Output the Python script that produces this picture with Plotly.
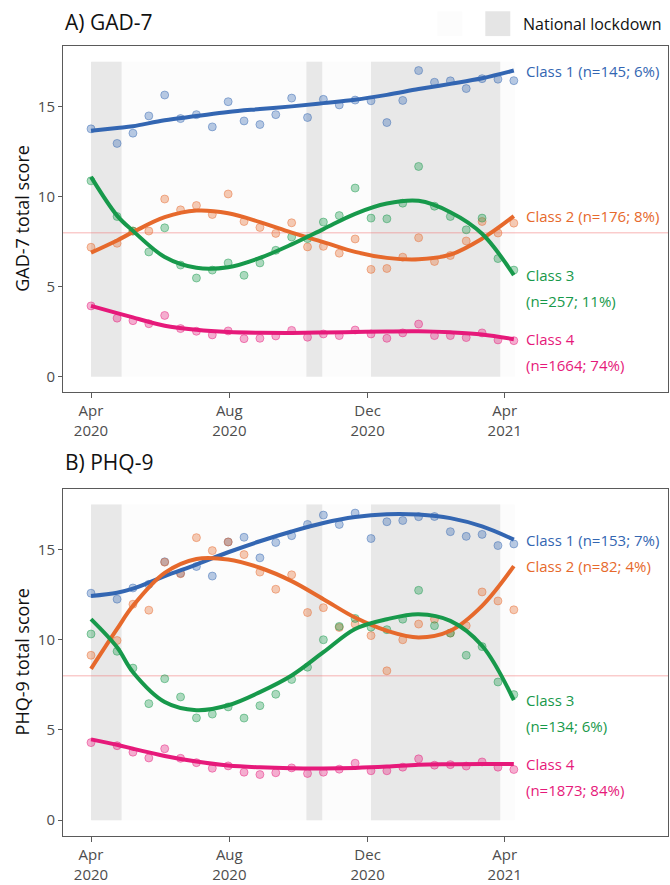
import plotly.graph_objects as go

# ---------------- data ----------------
POINT_DATES = ["2020-04-01", "2020-04-24", "2020-05-08", "2020-05-22", "2020-06-05", "2020-06-19",
               "2020-07-03", "2020-07-17", "2020-07-31", "2020-08-14", "2020-08-28", "2020-09-11",
               "2020-09-25", "2020-10-09", "2020-10-23", "2020-11-06", "2020-11-20", "2020-12-04",
               "2020-12-18", "2021-01-01", "2021-01-15", "2021-01-29", "2021-02-12", "2021-02-26",
               "2021-03-12", "2021-03-26", "2021-04-09"]

LINE_DATES = ["2020-04-01", "2020-04-24", "2020-05-08", "2020-06-05", "2020-07-03", "2020-07-31",
              "2020-08-28", "2020-09-25", "2020-10-23", "2020-11-20", "2020-12-18", "2021-01-15",
              "2021-02-12", "2021-03-12", "2021-04-09"]

CLASSES = ["Class 1", "Class 2", "Class 3", "Class 4"]

# GAD-7 observed means
gad_c1 = [13.77, 12.96, 13.53, 14.49, 15.65, 14.34, 14.56, 13.88, 15.28, 14.21, 14.01, 14.56, 15.48, 14.40,
          15.41, 15.10, 15.37, 15.33, 14.12, 15.35, 17.01, 16.36, 16.44, 16.01, 16.56, 16.53, 16.45]
gad_c2 = [7.19, 7.41, 8.09, 8.09, 9.87, 9.27, 9.51, 9.01, 10.15, 8.62, 8.29, 7.96, 8.55, 7.21,
          7.24, 6.86, 7.65, 5.96, 6.01, 6.64, 7.72, 6.40, 6.73, 7.54, 8.62, 7.98, 8.53]
gad_c3 = [10.88, 8.90, 8.09, 6.93, 8.27, 6.20, 5.48, 5.92, 6.32, 5.63, 6.32, 7.02, 7.76, 7.67,
          8.59, 8.95, 10.48, 8.81, 8.77, 9.64, 11.68, 9.47, 8.90, 8.16, 8.81, 6.56, 5.92]
gad_c4 = [3.93, 3.25, 3.11, 2.94, 3.40, 2.67, 2.52, 2.32, 2.54, 2.11, 2.13, 2.26, 2.57, 2.19,
          2.37, 2.28, 2.59, 2.37, 2.13, 2.43, 2.92, 2.28, 2.28, 2.17, 2.43, 2.04, 2.00]

# GAD-7 fitted trajectories
gad_fit_c1 = [13.66, 13.82, 13.92, 14.25, 14.48, 14.71, 14.87, 15.02, 15.20, 15.39, 15.66, 15.98, 16.27, 16.58, 17.01]
gad_fit_c2 = [6.89, 7.57, 8.03, 8.86, 9.23, 9.08, 8.59, 8.00, 7.48, 6.93, 6.60, 6.52, 6.78, 7.67, 8.92]
gad_fit_c3 = [11.10, 8.95, 8.10, 6.65, 6.05, 6.08, 6.60, 7.35, 8.20, 9.05, 9.62, 9.77, 9.14, 7.94, 5.64]
gad_fit_c4 = [3.93, 3.53, 3.29, 2.83, 2.60, 2.48, 2.44, 2.43, 2.45, 2.48, 2.51, 2.52, 2.46, 2.34, 2.08]

# PHQ-9 observed means
phq_c1 = [12.58, 12.25, 12.87, 13.07, 14.32, 13.68, 14.06, 13.53, 15.42, 15.68, 14.54, 15.39, 15.77, 16.39,
          16.91, 16.39, 17.02, 15.61, 16.54, 16.61, 16.82, 16.83, 15.99, 15.73, 15.84, 15.22, 15.31]
phq_c2 = [9.14, 9.96, 11.97, 11.64, 14.30, 13.66, 15.66, 14.94, 15.42, 14.72, 13.75, 12.80, 13.60, 11.51,
          11.78, 10.68, 10.87, 10.23, 8.28, 10.00, 10.87, 11.14, 10.37, 10.78, 12.65, 12.15, 11.66]
phq_c3 = [10.32, 9.36, 8.43, 6.46, 7.84, 6.83, 5.67, 5.88, 6.28, 5.66, 6.35, 6.98, 7.80, 8.48,
          10.00, 10.74, 11.18, 10.70, 10.56, 11.14, 12.74, 10.78, 10.37, 9.14, 9.62, 7.66, 6.96]
phq_c4 = [4.30, 4.13, 3.77, 3.45, 3.96, 3.43, 3.19, 2.88, 3.01, 2.66, 2.53, 2.63, 2.90, 2.59,
          2.66, 2.83, 3.16, 2.74, 2.74, 2.94, 3.40, 3.05, 3.08, 3.00, 3.23, 2.94, 2.81]

# PHQ-9 fitted trajectories
phq_fit_c1 = [12.43, 12.61, 12.83, 13.53, 14.17, 14.85, 15.46, 16.00, 16.47, 16.80, 16.96, 16.94, 16.74, 16.28, 15.55]
phq_fit_c2 = [8.39, 10.60, 11.88, 13.71, 14.48, 14.45, 13.99, 13.25, 12.25, 11.23, 10.50, 10.13, 10.50, 11.88, 14.08]
phq_fit_c3 = [11.14, 9.58, 8.20, 6.55, 6.10, 6.37, 7.10, 8.02, 9.31, 10.60, 11.14, 11.42, 11.05, 9.67, 6.65]
phq_fit_c4 = [4.48, 4.18, 3.96, 3.56, 3.25, 3.03, 2.93, 2.88, 2.87, 2.90, 2.97, 3.07, 3.10, 3.12, 3.11]

gad_labels = [["Class 1 (n=145; 6%)"], ["Class 2 (n=176; 8%)"], ["Class 3", "(n=257; 11%)"], ["Class 4", "(n=1664; 74%)"]]
phq_labels = [["Class 1 (n=153; 7%)"], ["Class 2 (n=82; 4%)"], ["Class 3", "(n=134; 6%)"], ["Class 4", "(n=1873; 84%)"]]

LOCKDOWNS = [("2020-04-01", "2020-04-28"), ("2020-10-08", "2020-10-22"), ("2020-12-04", "2021-03-28")]
STUDY_PERIOD = ("2020-04-01", "2021-04-10")
THRESHOLD = 8

X_TICKS = ["2020-04-01", "2020-08-01", "2020-12-01", "2021-04-01"]
X_TICKTEXT = ["Apr<br>2020", "Aug<br>2020", "Dec<br>2020", "Apr<br>2021"]
Y_TICKS = [0, 5, 10, 15]

# ---------------- style ----------------
COLORS = ["#3366B2", "#E6692C", "#17994B", "#E6197A"]
FILLS = ["rgba(51,102,178,0.35)", "rgba(230,105,44,0.35)", "rgba(23,153,75,0.35)", "rgba(230,25,122,0.35)"]
EDGES = ["rgba(51,102,178,0.45)", "rgba(230,105,44,0.45)", "rgba(23,153,75,0.45)", "rgba(230,25,122,0.45)"]
FONT = "Open Sans"
TICK_COL = "#4D4D4D"

W, H = 670, 885
ML, MR, MT, MB = 63, 1, 46, 43
PW = W - ML - MR
PH = H - MT - MB


def px_x(p):
    return (p - ML) / PW


def px_y(p):
    return (H - MB - p) / PH


x_range = ["2020-03-07 07:00", "2021-08-23 00:00"]

fig = go.Figure()

panels = [
    ("x", "y", [gad_c1, gad_c2, gad_c3, gad_c4], [gad_fit_c1, gad_fit_c2, gad_fit_c3, gad_fit_c4], gad_labels),
    ("x2", "y2", [phq_c1, phq_c2, phq_c3, phq_c4], [phq_fit_c1, phq_fit_c2, phq_fit_c3, phq_fit_c4], phq_labels),
]

shapes = []
annotations = []

for xa, ya, obs, fits, labels in panels:
    # background shading
    shapes.append(dict(type="rect", xref=xa, yref=ya, x0=STUDY_PERIOD[0], x1=STUDY_PERIOD[1], y0=0, y1=17.5,
                       fillcolor="#FCFCFC", line=dict(width=0), layer="below"))
    for s, e in LOCKDOWNS:
        shapes.append(dict(type="rect", xref=xa, yref=ya, x0=s, x1=e, y0=0, y1=17.5,
                           fillcolor="#E8E8E8", line=dict(width=0), layer="below"))
    shapes.append(dict(type="line", xref=xa, yref=ya, x0=x_range[0], x1=x_range[1], y0=THRESHOLD, y1=THRESHOLD,
                       line=dict(color="rgba(240,110,110,0.35)", width=1.5), layer="below"))
    for i in range(4):
        fig.add_trace(go.Scatter(x=POINT_DATES, y=obs[i], mode="markers", xaxis=xa, yaxis=ya,
                                 marker=dict(size=8, color=FILLS[i], line=dict(color=EDGES[i], width=1)),
                                 showlegend=False, hoverinfo="skip"))
    for i in range(4):
        fig.add_trace(go.Scatter(x=LINE_DATES, y=fits[i], mode="lines", xaxis=xa, yaxis=ya,
                                 line=dict(color=COLORS[i], width=4, shape="spline", smoothing=1.0),
                                 showlegend=False, hoverinfo="skip"))
    for i in range(4):
        for k, t in enumerate(labels[i]):
            annotations.append(dict(x=POINT_DATES[-1], y=fits[i][-1], xref=xa, yref=ya, text=t,
                                    showarrow=False, xanchor="left", yanchor="middle", xshift=10,
                                    yshift=-26 * k, font=dict(family=FONT, size=15, color=COLORS[i])))

# titles
annotations.append(dict(x=0, y=px_y(22), xref="paper", yref="paper", text="A) GAD-7", showarrow=False,
                        xanchor="left", yanchor="middle", font=dict(family=FONT, size=21, color="#111")))
annotations.append(dict(x=0, y=px_y(465), xref="paper", yref="paper", text="B) PHQ-9", showarrow=False,
                        xanchor="left", yanchor="middle", font=dict(family=FONT, size=21, color="#111")))
# y-axis titles
annotations.append(dict(x=px_x(22), y=px_y(220), xref="paper", yref="paper", text="GAD-7 total score",
                        showarrow=False, textangle=-90, xanchor="center", yanchor="middle",
                        font=dict(family=FONT, size=18, color="#111")))
annotations.append(dict(x=px_x(22), y=px_y(667), xref="paper", yref="paper", text="PHQ-9 total score",
                        showarrow=False, textangle=-90, xanchor="center", yanchor="middle",
                        font=dict(family=FONT, size=18, color="#111")))
# legend
shapes.append(dict(type="rect", xref="paper", yref="paper", x0=px_x(438), x1=px_x(463), y0=px_y(36), y1=px_y(11),
                   fillcolor="#FCFCFC", line=dict(width=0)))
shapes.append(dict(type="rect", xref="paper", yref="paper", x0=px_x(486), x1=px_x(511), y0=px_y(36), y1=px_y(11),
                   fillcolor="#E5E5E5", line=dict(width=0)))
annotations.append(dict(x=px_x(522), y=px_y(23.5), xref="paper", yref="paper", text="National lockdown",
                        showarrow=False, xanchor="left", yanchor="middle",
                        font=dict(family=FONT, size=16, color="#111")))

axis_common = dict(showline=True, mirror=True, linecolor="#5A5A5A", linewidth=1, showgrid=False, zeroline=False,
                   ticks="outside", tickcolor="#5A5A5A", tickfont=dict(family=FONT, size=15, color=TICK_COL))

fig.update_layout(
    width=W, height=H, margin=dict(l=ML, r=MR, t=MT, b=MB),
    paper_bgcolor="white", plot_bgcolor="white",
    shapes=shapes, annotations=annotations, showlegend=False,
    xaxis=dict(domain=[0, 1], anchor="y", type="date", range=x_range, tickvals=X_TICKS, ticktext=X_TICKTEXT,
               ticklen=5, **axis_common),
    xaxis2=dict(domain=[0, 1], anchor="y2", type="date", range=x_range, tickvals=X_TICKS, ticktext=X_TICKTEXT,
                ticklen=5, **axis_common),
    yaxis=dict(domain=[px_y(395), 1], anchor="x", range=[-0.875, 18.375], tickvals=Y_TICKS, ticklen=4,
               **axis_common),
    yaxis2=dict(domain=[0, px_y(492)], anchor="x2", range=[-0.875, 18.375], tickvals=Y_TICKS, ticklen=4,
                **axis_common),
)

fig.write_html("out.html")
